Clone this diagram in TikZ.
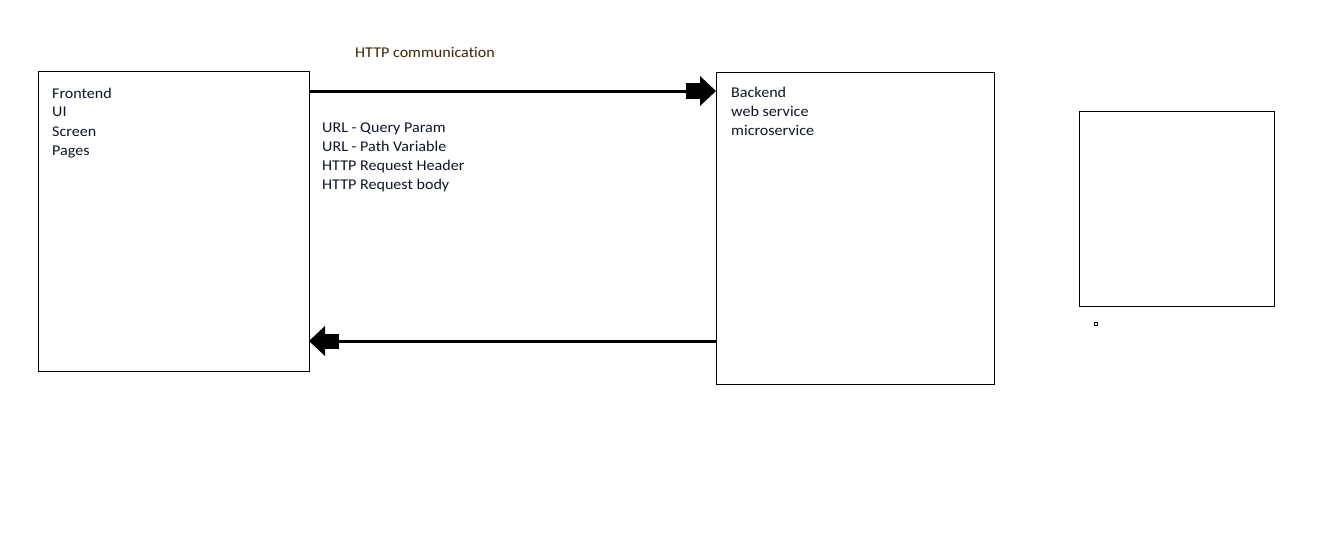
\documentclass[tikz,border=0pt]{standalone}
\usepackage{fontspec}
\setmainfont{Carlito}[FakeStretch=1.08,Ligatures=NoCommon]
\usetikzlibrary{arrows.meta,calc}
\definecolor{txt}{HTML}{0C1628}
\definecolor{brn}{HTML}{3F2200}
\tikzset{
  box/.style={draw=black,line width=1pt,rectangle,inner sep=0pt,anchor=north west},
  lbl/.style={anchor=base west,inner sep=0pt,text=txt,font=\fontsize{14.9}{19}\selectfont},
  bigarrow/.style={line width=3pt,-{Rectangle[length=14pt,width=15pt,line width=0pt,sep=0pt]Triangle[length=16pt,width=30pt,line width=0pt]}},
}
\begin{document}
\begin{tikzpicture}[x=1pt,y=-1pt]
\useasboundingbox[fill=white] (0,0) rectangle (1328,551);
% boxes
\node[box,minimum width=271pt,minimum height=300pt] (fe) at (38,71) {};
\node[box,minimum width=278pt,minimum height=312pt] (be) at (716,72) {};
\node[box,minimum width=195pt,minimum height=195pt] (ex) at (1079,111) {};
\node[draw=black,line width=1pt,inner sep=0pt,minimum size=3pt] (dot) at (1095.5,323.5) {};
% labels
\node[lbl,text=brn] (http) at (355,58) {HTTP communication};
\node[lbl] (f1) at (52,98) {Frontend};
\node[lbl] (f2) at (52,117) {UI};
\node[lbl] (f3) at (52,136) {Screen};
\node[lbl] (f4) at (52,155) {Pages};
\node[lbl] (b1) at (731,97) {Backend};
\node[lbl] (b2) at (731,116) {web service};
\node[lbl] (b3) at (731,135) {microservice};
\node[lbl] (r1) at (322,132) {URL - Query Param};
\node[lbl] (r2) at (322,151) {URL - Path Variable};
\node[lbl] (r3) at (322,170) {HTTP Request Header};
\node[lbl] (r4) at (322,189) {HTTP Request body};
% arrows
\draw[bigarrow] ($(fe.north east)+(0,20)$) -- ($(be.north west)+(0,19)$);
\draw[bigarrow] ($(be.north west)+(1,269)$) -- ($(fe.north east)+(-1,270)$);
\end{tikzpicture}
\end{document}
